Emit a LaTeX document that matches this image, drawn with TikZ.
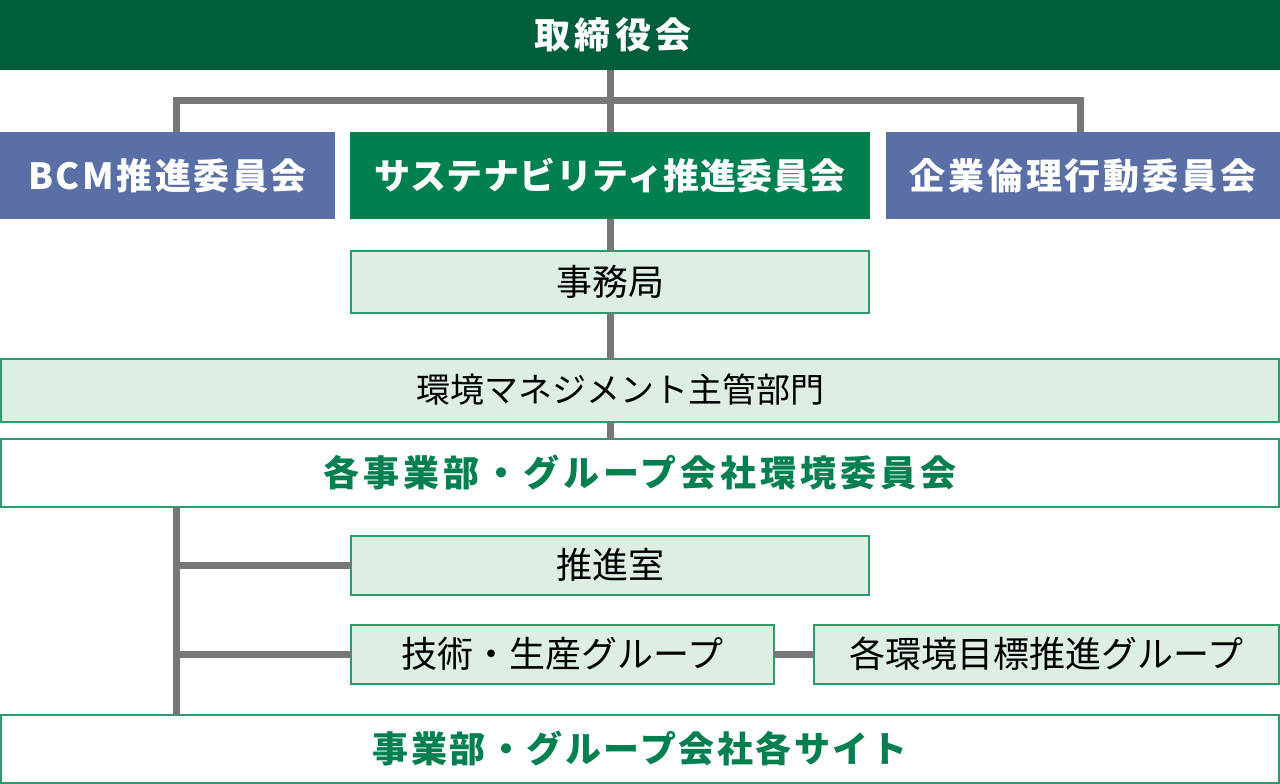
\documentclass[tikz,border=0pt]{standalone}
\usepackage{fontspec}
\setmainfont{Noto Sans CJK JP}
\definecolor{dkgreen}{HTML}{005E3A}
\definecolor{mdgreen}{HTML}{00804F}
\definecolor{slateblue}{HTML}{5A6FA6}
\definecolor{lightgreen}{HTML}{DDEEE2}
\definecolor{bordergreen}{HTML}{2E9B6B}
\definecolor{linegray}{HTML}{777777}
\newcommand{\bfsp}[1]{\fontsize{36}{40}\selectfont\bfseries\addfontfeatures{LetterSpace=#1}}
\begin{document}
\begin{tikzpicture}[x=1pt,y=-1pt,
  base/.style={inner sep=0pt, outer sep=0pt, anchor=center},
  solidbox/.style={base, text=white},
  lightbox/.style={base, fill=lightgreen, draw=bordergreen, line width=2pt, text=black, font=\fontsize{36}{40}\selectfont},
  whitebox/.style={base, fill=white, draw=bordergreen, line width=2pt, text=mdgreen},
  conn/.style={draw=linegray, line width=7pt}]
\useasboundingbox (0,0) rectangle (1280,784);
% boxes
\node[solidbox, fill=dkgreen, minimum width=1280pt, minimum height=70pt] (board) at (640,35) {};
\node[solidbox, font=\bfsp{12}] (boardtext) at (613,35) {取締役会};
\node[solidbox, fill=slateblue, minimum width=335pt, minimum height=87pt, font=\bfsp{7}] (bcm) at (167.5,175.5) {BCM推進委員会};
\node[solidbox, fill=mdgreen, minimum width=520pt, minimum height=87pt, font=\bfsp{1.5}] (sust) at (610,175.5) {サステナビリティ推進委員会};
\node[solidbox, fill=slateblue, minimum width=394pt, minimum height=87pt, font=\bfsp{8}] (eth) at (1083,175.5) {企業倫理行動委員会};
\node[lightbox, minimum width=518pt, minimum height=62pt] (office) at (610,281.5) {事務局};
\node[lightbox, minimum width=1278pt, minimum height=63pt] (envmgmt) at (640,390) {};
\node[base, font=\fontsize{34}{40}\selectfont] (envtext) at (620,390) {環境マネジメント主管部門};
\node[whitebox, minimum width=1278pt, minimum height=68pt, font=\bfsp{11}] (cmt) at (640,472.5) {各事業部・グループ会社環境委員会};
\node[lightbox, minimum width=518pt, minimum height=59pt] (promo) at (610,565) {推進室};
\node[lightbox, minimum width=423pt, minimum height=59pt] (tech) at (562.5,654) {技術・生産グループ};
\node[lightbox, minimum width=465pt, minimum height=59pt] (goal) at (1046.5,654) {各環境目標推進グループ};
\node[whitebox, minimum width=1278pt, minimum height=68pt, font=\bfsp{7}] (sites) at (640,748.5) {事業部・グループ会社各サイト};
% connector coordinates
\coordinate (bl) at (176,100);
\coordinate (br) at (1080,100);
\coordinate (trunk) at (176,600);
% connectors
\draw[conn] (board.south -| sust.north) -- (sust.north);
\draw[conn] (bcm.north -| bl) -- (bl) -- (br) -- (br |- eth.north);
\draw[conn] (sust.south) -- (office.north);
\draw[conn] (office.south) -- (envmgmt.north -| office.south);
\draw[conn] (envmgmt.south -| sust.south) -- (cmt.north -| sust.south);
\draw[conn] (cmt.south -| trunk) -- (sites.north -| trunk);
\draw[conn] (trunk |- promo.west) -- (promo.west);
\draw[conn] (trunk |- tech.west) -- (tech.west);
\draw[conn] (tech.east) -- (goal.west);
\end{tikzpicture}
\end{document}
